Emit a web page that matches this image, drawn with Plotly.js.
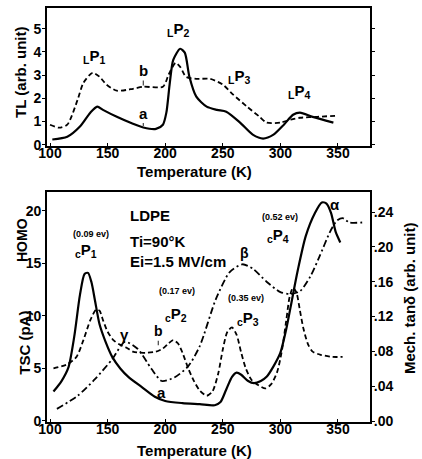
<!DOCTYPE html>
<html><head><meta charset="utf-8">
<script src="https://cdn.plot.ly/plotly-3.0.1.min.js"></script>
<style>html,body{margin:0;padding:0;background:#fff}#g{width:422px;height:459px}</style>
</head><body><div id="g"></div>
<script>
// ---- Top panel (TL) ----
const tlA_T = [102,115,126,135,141,146,158,172,181,192,198,201,204,207,213,217,221,227,236,245,253,265,276,285,294,303,311,317,328,346];
const tlA_V = [0.22,0.34,0.78,1.38,1.64,1.5,1.2,0.9,0.74,0.68,0.86,1.38,2.67,3.66,4.14,3.97,2.93,2.07,1.64,1.5,1.42,0.95,0.43,0.26,0.43,0.86,1.29,1.38,1.2,0.95];
const tlB_T = [100,108,115,124,129,137,143,149,158,172,181,198,203,209,213,218,227,239,250,259,271,282,288,300,309,317,332,349];
const tlB_V = [0.86,0.73,0.86,1.94,2.67,3.1,2.93,2.59,2.33,2.41,2.5,2.5,3.02,3.53,3.36,2.93,2.84,2.84,2.59,2.16,1.64,1.2,0.95,0.95,1.08,1.16,1.2,1.25];
// ---- Bottom panel (TSC, pA) ----
const tscA_T = [103,110,116,121,126,130,133,136,139,143,148,154,161,168,180,191,200,215,230,243,248,253,258,262,266,272,277,283,288,294,300,305,310,315,322,330,336,340,344,348,352];
const tscA_V = [2.8,3.8,5.1,8,12,14,14.1,13.2,11.5,9.2,7.6,6.1,5.0,4.2,3.2,2.3,1.9,1.7,1.6,1.5,1.8,3.0,4.2,4.6,4.4,3.8,3.6,3.8,4.2,5.2,6.5,8.7,11.5,14.3,17.6,19.8,20.8,20.7,19.8,18.0,17.0];
const tscB_T = [103,115,123,129,135,140,143,146,150,155,160,166,172,178,185,192,198,203,207,211,215,220,225,230,236,241,246,250,254,258,262,266,270,275,281,287,292,297,301,305,308,311,314,317,320,324,328,335,345,354];
const tscB_V = [5.0,5.4,6.1,7.7,9.6,10.6,10.5,9.6,8.5,7.7,7.3,7.0,6.6,6.5,6.5,6.6,6.9,7.4,7.7,7.4,6.5,5.0,3.8,2.9,2.4,2.8,4.5,6.8,8.5,8.9,8.2,6.5,5.0,3.9,3.4,3.1,3.5,4.6,6.5,9.5,11.8,12.7,12.2,10.5,8.8,7.3,6.6,6.3,6.1,6.1];
// ---- Mechanical tan delta (right axis) ----
const mech_T = [106,124,139,154,165,176,188,197,208,220,230,244,256,267,276,288,300,308,317,326,334,343,349,354,360,371];
const mech_V = [0.014,0.029,0.048,0.071,0.091,0.083,0.060,0.046,0.050,0.063,0.086,0.140,0.171,0.180,0.175,0.160,0.148,0.146,0.149,0.166,0.189,0.217,0.230,0.233,0.228,0.228];
// ticks
const xTicks = [100,150,200,250,300,350];
const tlTicks = [0,1,2,3,4,5];
const tscTicks = [0,5,10,15,20];
const mechTicks = [0,0.04,0.08,0.12,0.16,0.20,0.24];
const mechTickText = ['.00','.04','.08','.12','.16','.20','.24'];

const F = 'Liberation Sans, Arial, sans-serif';
const tf = {family:F, size:14, color:'#000', weight:'bold'};
const sm = 0.7;
const traces = [
  {x:tlA_T, y:tlA_V, xaxis:'x', yaxis:'y', mode:'lines', line:{color:'#000', width:2.2, shape:'spline', smoothing:sm}},
  {x:tlB_T, y:tlB_V, xaxis:'x', yaxis:'y', mode:'lines', line:{color:'#000', width:1.8, dash:'5px,3px', shape:'spline', smoothing:sm}},
  {x:tscA_T, y:tscA_V, xaxis:'x2', yaxis:'y2', mode:'lines', line:{color:'#000', width:2.2, shape:'spline', smoothing:sm}},
  {x:tscB_T, y:tscB_V, xaxis:'x2', yaxis:'y2', mode:'lines', line:{color:'#000', width:1.8, dash:'5px,3px', shape:'spline', smoothing:sm}},
  {x:mech_T, y:mech_V, xaxis:'x2', yaxis:'y3', mode:'lines', line:{color:'#000', width:1.8, dash:'7px,3px,2px,3px', shape:'spline', smoothing:sm}}
];
const xa = {range:[97.4,377.8], tickvals:xTicks, ticks:'inside', ticklen:3, tickcolor:'#000', showline:true, linecolor:'#000', linewidth:2, mirror:true, showgrid:false, zeroline:false, tickfont:tf, ticklabelstandoff:-7, domain:[0.1114,0.8768]};
const layout = {
  width:422, height:459, margin:{l:0,r:0,t:0,b:0}, paper_bgcolor:'#fff', plot_bgcolor:'#fff', showlegend:false,
  xaxis: Object.assign({}, xa, {anchor:'y'}),
  yaxis: {domain:[0.6819,0.9826], anchor:'x', range:[-0.06,5.9], tickvals:tlTicks, ticks:'outside', ticklen:3, tickcolor:'#000', showline:true, linecolor:'#000', linewidth:2, mirror:'ticks', showgrid:false, zeroline:false, tickfont:tf, ticklabelstandoff:-2},
  xaxis2: Object.assign({}, xa, {anchor:'y2'}),
  yaxis2: {domain:[0.0806,0.5817], anchor:'x2', range:[-0.1,21.8], tickvals:tscTicks, ticks:'outside', ticklen:3, tickcolor:'#000', showline:true, linecolor:'#000', linewidth:2, showgrid:false, zeroline:false, tickfont:tf, ticklabelstandoff:-2},
  yaxis3: {overlaying:'y2', side:'right', anchor:'x2', range:[-0.0011,0.263], tickvals:mechTicks, ticktext:mechTickText, ticks:'outside', ticklen:3, tickcolor:'#000', showline:true, linecolor:'#000', linewidth:2, showgrid:false, zeroline:false, tickfont:tf, ticklabelstandoff:-4},
  annotations: []
};
const A = layout.annotations;
function pa(text, x, y, size, angle){A.push({text, xref:'paper', yref:'paper', x, y, xanchor:'center', yanchor:'middle', showarrow:false, textangle:angle||0, font:{family:F,size:size,color:'#000',weight:'bold'}});}
pa('Temperature (K)', 0.46, 0.627, 15);
pa('Temperature (K)', 0.46, 0.0196, 15);
pa('TL (arb. unit)', 0.047, 0.843, 15, -90);
pa('HOMO', 0.052, 0.477, 14, -90);
pa('TSC (pA)', 0.059, 0.253, 15, -90);
pa('Mech. tanδ (arb. unit)', 0.972, 0.351, 15, -90);
function da(text, x, y, xr, yr, size, extra){A.push(Object.assign({text, x, y, xref:xr, yref:yr, showarrow:false, font:{family:F,size:size,color:'#000',weight:'bold'}}, extra||{}));}
// top panel labels
da('<sub>L</sub>P<sub>1</sub>', 138, 3.8, 'x','y', 15);
da('<sub>L</sub>P<sub>2</sub>', 211, 4.95, 'x','y', 15);
da('<sub>L</sub>P<sub>3</sub>', 264, 2.95, 'x','y', 15);
da('<sub>L</sub>P<sub>4</sub>', 316, 2.3, 'x','y', 15);
da('b', 181, 2.55, 'x','y', 15, {showarrow:true, arrowhead:0, arrowwidth:1.2, ax:0, ay:-15, standoff:0});
da('a', 181, 0.8, 'x','y', 15, {showarrow:true, arrowhead:0, arrowwidth:1.2, ax:0, ay:-13, standoff:0});
// bottom panel labels
da('LDPE', 167.7, 19.6, 'x2','y2', 15, {xanchor:'left'});
da('Ti=90°K', 167.7, 17.1, 'x2','y2', 15, {xanchor:'left'});
da('Ei=1.5 MV/cm', 167.7, 15.2, 'x2','y2', 15, {xanchor:'left'});
da('(0.09 ev)', 135.6, 17.8, 'x2','y2', 9);
da('<sub>c</sub>P<sub>1</sub>', 131, 16.2, 'x2','y2', 15);
da('γ', 165, 8.2, 'x2','y2', 15);
da('b', 194, 7.2, 'x2','y2', 14, {showarrow:true, arrowhead:0, arrowwidth:1.2, ax:0, ay:-14, standoff:0});
da('(0.17 ev)', 210, 12.4, 'x2','y2', 9);
da('<sub>c</sub>P<sub>2</sub>', 209, 10.1, 'x2','y2', 15);
da('β', 269, 16.0, 'x2','y2', 14);
da('(0.35 ev)', 270, 11.7, 'x2','y2', 9);
da('<sub>c</sub>P<sub>3</sub>', 272, 9.8, 'x2','y2', 15);
da('(0.52 ev)', 300, 19.4, 'x2','y2', 9);
da('<sub>c</sub>P<sub>4</sub>', 298, 17.7, 'x2','y2', 15);
da('α', 347, 20.6, 'x2','y2', 15);
da('a', 197, 2.7, 'x2','y2', 15);
Plotly.newPlot('g', traces, layout, {staticPlot:true, displayModeBar:false});
</script></body></html>
